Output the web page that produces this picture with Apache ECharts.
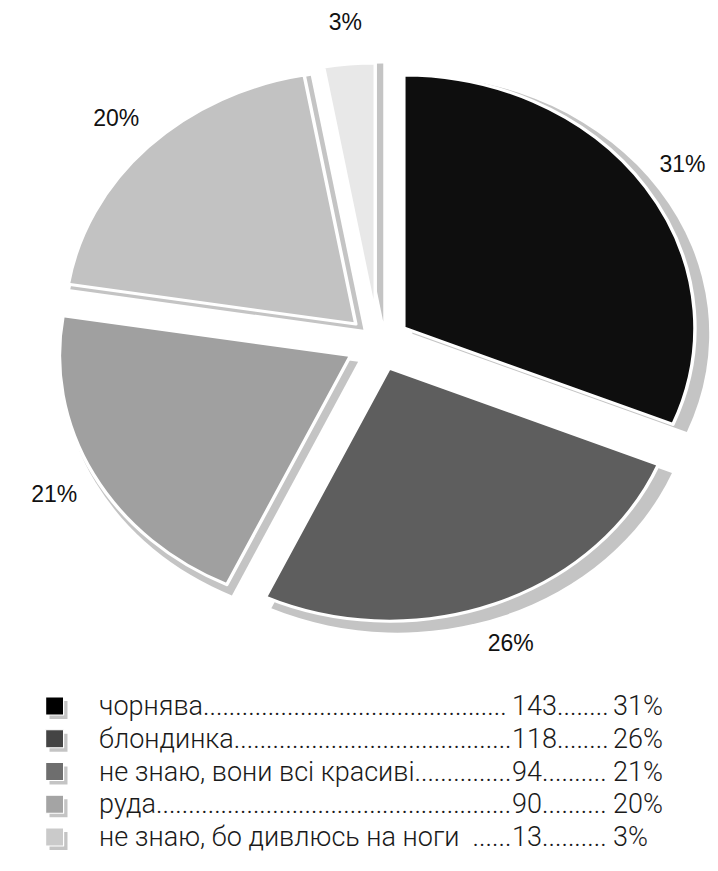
<!DOCTYPE html>
<html>
<head>
<meta charset="utf-8">
<script src="https://cdn.jsdelivr.net/npm/echarts@6/dist/echarts.min.js"></script>
<style>
html,body{margin:0;padding:0;background:#fff;overflow:hidden}
#wrap{width:718px;height:871px;overflow:hidden;position:relative;background:#fff}
#pie{position:absolute;left:0;top:0;width:624px;height:871px;transform:scaleX(1.150641);transform-origin:0 0}
#text{position:absolute;left:0;top:0;width:718px;height:871px}
</style>
</head>
<body>
<div id="wrap"><div id="pie"></div><div id="text"></div></div>
<script>
// ---- data ----
const categories = ['чорнява', 'блондинка', 'не знаю, вони всі красиві', 'руда', 'не знаю, бо дивлюсь на ноги'];
const values = [143, 118, 94, 90, 13];
const legendLead = ['', '', '', '', '  '];
const sliceColors = ['#0e0e0e', '#5e5e5e', '#a0a0a0', '#c2c2c2', '#e8e8e8'];
const legendColors = ['#000000', '#444444', '#6e6e6e', '#a4a4a4', '#cacaca'];
const shadowColor = '#c4c4c4';

// ---- layout helpers ----
const SX = 718 / 624;          // horizontal stretch of the pie (elliptical pie)
const LABEL_FONT = '"Liberation Sans", Arial, sans-serif';
const LEG_FONT = 'Roboto, "Liberation Sans", Arial, sans-serif';
const LEG_FS = 27, LEG_FW = 300;
const total = values.reduce((a, b) => a + b, 0);
const pctText = values.map(v => Math.round(v / total * 100) + '%');

const midRight = [];
{
  let cum = 0;
  values.forEach(v => {
    const mid = (90 - 360 * (cum + v / 2) / total) * Math.PI / 180;
    midRight.push(Math.cos(mid) > 0);
    cum += v;
  });
}

const mctx = document.createElement('canvas').getContext('2d');
mctx.font = LEG_FW + ' ' + LEG_FS + 'px ' + LEG_FONT;
function fillDots(prefix, width) {
  const dw = mctx.measureText('.').width;
  const n = Math.floor((width - mctx.measureText(prefix).width) / dw);
  return prefix + '.'.repeat(Math.max(0, n));
}
const W1 = 513 - 100;
const W2 = 614 - 513;
const legendText = {};
categories.forEach((c, i) => {
  legendText[c] = '{n|' + fillDots(c + legendLead[i], W1) + '}{v|' + fillDots(String(values[i]), W2) + '}{p|' + pctText[i] + '}';
});

const CXR = 378, CY = 343, R = 253, OFF = 27;

// ---- pie (drawn in a horizontally stretched box) ----
const pie = echarts.init(document.getElementById('pie'), null, { renderer: 'svg' });
pie.setOption({
  animation: false,
  series: [
    {
      type: 'pie', name: 'shadow', silent: true, z: 1,
      center: [CXR / SX + 7, CY + 6], radius: R + 5,
      startAngle: 90, clockwise: true,
      selectedMode: 'multiple', selectedOffset: OFF + 0.5,
      data: values.map((v, i) => ({ name: categories[i], value: v, selected: true })),
      itemStyle: { color: shadowColor, borderWidth: 0 },
      select: { itemStyle: { color: shadowColor, borderWidth: 0 } },
      label: { show: false }, labelLine: { show: false },
      emphasis: { disabled: true }
    },
    {
      type: 'pie', name: 'main', silent: true, z: 2,
      center: [CXR / SX, CY], radius: R,
      startAngle: 90, clockwise: true,
      selectedMode: 'multiple', selectedOffset: OFF,
      color: sliceColors,
      data: values.map((v, i) => ({ name: categories[i], value: v, selected: true })),
      itemStyle: { borderColor: '#ffffff', borderWidth: 3 },
      select: { itemStyle: { borderColor: '#ffffff', borderWidth: 3 } },
      label: { show: false }, labelLine: { show: false },
      emphasis: { disabled: true }
    }
  ]
});

// ---- labels and legend (not stretched) ----
const txt = echarts.init(document.getElementById('text'), null, { renderer: 'svg' });
const tokenStyle = { fontSize: LEG_FS, fontWeight: LEG_FW, fontFamily: LEG_FONT, color: '#1a1a1a', lineHeight: 30 };
const LEG_TOP = 686, ICON = 18, GAP = 2.75;
txt.setOption({
  animation: false,
  legend: [
    {
      orient: 'vertical', left: 44.5, top: LEG_TOP + 4,
      itemWidth: ICON, itemHeight: ICON, itemGap: GAP,
      icon: 'rect', selectedMode: false, z: 1,
      itemStyle: { borderWidth: 0 },
      data: categories.map(c => ({ name: c, itemStyle: { color: shadowColor } })),
      formatter: () => ' ',
      textStyle: { fontSize: LEG_FS, lineHeight: 30, fontFamily: LEG_FONT, color: '#fff' }
    },
    {
      orient: 'vertical', left: 40, top: LEG_TOP,
      itemWidth: ICON, itemHeight: ICON, itemGap: GAP,
      icon: 'rect', selectedMode: false, z: 3,
      itemStyle: { borderColor: '#ffffff', borderWidth: 1.2 },
      data: categories.map((c, i) => ({ name: c, itemStyle: { color: legendColors[i] } })),
      formatter: name => legendText[name],
      textStyle: {
        fontSize: LEG_FS, fontWeight: LEG_FW, lineHeight: 30, fontFamily: LEG_FONT, color: '#1a1a1a',
        padding: [0, 0, 0, 30.5],
        rich: {
          n: Object.assign({ width: W1 }, tokenStyle),
          v: Object.assign({ width: W2 }, tokenStyle),
          p: Object.assign({}, tokenStyle)
        }
      }
    }
  ],
  series: [
    {
      type: 'pie', name: 'labels', silent: true,
      center: [CXR, CY], radius: R,
      startAngle: 90, clockwise: true,
      selectedMode: 'multiple', selectedOffset: OFF,
      avoidLabelOverlap: false,
      data: values.map((v, i) => ({ name: categories[i], value: v, selected: true })),
      itemStyle: { color: 'rgba(0,0,0,0)', borderWidth: 0 },
      select: { itemStyle: { color: 'rgba(0,0,0,0)', borderWidth: 0 } },
      label: {
        show: true, position: 'outside', distanceToLabelLine: 0,
        formatter: p => Math.round(p.percent) + '%',
        fontSize: 23, fontFamily: LABEL_FONT, color: '#111111'
      },
      labelLine: { show: false, length: 42, length2: 0 },
      labelLayout: p => {
        const r = p.labelRect;
        const xa = midRight[p.dataIndex] ? r.x : r.x + r.width;   // anchor on the circle
        const want = CXR + (xa - CXR) * SX;                        // same anchor on the ellipse
        return { dx: want - (r.x + r.width / 2) };
      },
      emphasis: { disabled: true }
    }
  ]
});
</script>
</body>
</html>
